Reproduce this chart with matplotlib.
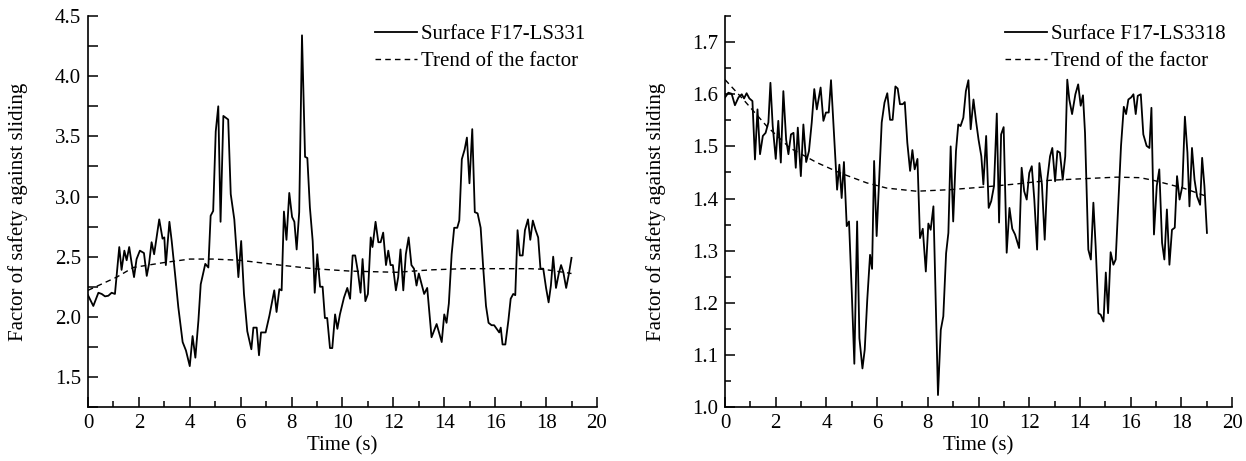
import matplotlib.pyplot as plt
from matplotlib.ticker import MultipleLocator

plt.rcParams['font.family'] = ['Liberation Serif', 'DejaVu Serif']
plt.rcParams['font.size'] = 15

# left panel: surface F17-LS331
time_a = [0.0, 0.21, 0.41, 0.54, 0.67, 0.8, 0.93, 1.06, 1.23, 1.32, 1.43, 1.52, 1.62, 1.72, 1.81, 1.91,
          2.04, 2.2, 2.31, 2.4, 2.5, 2.6, 2.8, 2.93, 3.0, 3.06, 3.2, 3.29, 3.42, 3.55, 3.72, 3.85,
          4.0, 4.11, 4.22, 4.34, 4.43, 4.61, 4.73, 4.82, 4.92, 5.02, 5.12, 5.21, 5.32, 5.51, 5.61, 5.75,
          5.91, 6.02, 6.13, 6.26, 6.42, 6.5, 6.63, 6.72, 6.8, 6.98, 7.13, 7.32, 7.41, 7.52, 7.61, 7.7,
          7.8, 7.91, 8.02, 8.11, 8.2, 8.3, 8.41, 8.53, 8.62, 8.72, 8.83, 8.91, 9.01, 9.12, 9.22, 9.31,
          9.4, 9.51, 9.6, 9.71, 9.8, 9.9, 10.06, 10.19, 10.3, 10.4, 10.5, 10.61, 10.71, 10.79, 10.9, 11.0,
          11.11, 11.18, 11.3, 11.41, 11.5, 11.6, 11.71, 11.8, 11.89, 11.98, 12.1, 12.19, 12.28, 12.39, 12.49, 12.6,
          12.71, 12.81, 12.91, 13.0, 13.11, 13.21, 13.33, 13.5, 13.7, 13.9, 14.0, 14.09, 14.18, 14.29, 14.39, 14.51,
          14.59, 14.69, 14.8, 14.89, 14.99, 15.1, 15.2, 15.31, 15.43, 15.53, 15.64, 15.74, 15.86, 15.96, 16.06, 16.16,
          16.22, 16.29, 16.4, 16.52, 16.61, 16.71, 16.79, 16.88, 16.97, 17.08, 17.17, 17.29, 17.38, 17.48, 17.59, 17.69,
          17.78, 17.89, 18.0, 18.1, 18.19, 18.28, 18.39, 18.5, 18.59, 18.68, 18.79, 18.9, 19.0]
factor_a = [2.18, 2.09, 2.20, 2.19, 2.17, 2.175, 2.2, 2.19, 2.58, 2.39, 2.55, 2.47, 2.58, 2.44, 2.33, 2.48,
            2.55, 2.53, 2.34, 2.44, 2.62, 2.52, 2.81, 2.65, 2.66, 2.43, 2.79, 2.63, 2.36, 2.08, 1.79, 1.72,
            1.59, 1.84, 1.66, 1.97, 2.27, 2.44, 2.41, 2.84, 2.88, 3.54, 3.75, 2.79, 3.67, 3.64, 3.02, 2.81,
            2.33, 2.63, 2.19, 1.88, 1.73, 1.91, 1.91, 1.68, 1.87, 1.87, 2.01, 2.22, 2.04, 2.23, 2.22, 2.875,
            2.64, 3.03, 2.83, 2.79, 2.56, 2.87, 4.34, 3.33, 3.32, 2.91, 2.63, 2.20, 2.52, 2.25, 2.25, 1.99,
            1.99, 1.74, 1.74, 2.02, 1.90, 2.02, 2.16, 2.24, 2.15, 2.51, 2.51, 2.37, 2.20, 2.48, 2.13, 2.19,
            2.66, 2.58, 2.79, 2.62, 2.62, 2.70, 2.43, 2.55, 2.43, 2.43, 2.22, 2.33, 2.56, 2.22, 2.52, 2.66,
            2.43, 2.40, 2.26, 2.36, 2.27, 2.19, 2.24, 1.83, 1.94, 1.79, 2.02, 1.95, 2.11, 2.52, 2.74, 2.74,
            2.80, 3.31, 3.39, 3.49, 3.11, 3.56, 2.87, 2.86, 2.74, 2.41, 2.09, 1.95, 1.93, 1.93, 1.90, 1.87,
            1.91, 1.77, 1.77, 1.97, 2.15, 2.19, 2.18, 2.72, 2.51, 2.51, 2.72, 2.81, 2.64, 2.80, 2.72, 2.66,
            2.40, 2.40, 2.24, 2.12, 2.26, 2.50, 2.24, 2.36, 2.43, 2.37, 2.24, 2.36, 2.49]
trend_time_a = [0, 1.13, 1.78, 2.96, 4.0, 4.9, 5.97, 7.54, 8.85, 10.3, 12.13, 13.44, 14.75, 16.06, 17.37, 17.9, 19.0]
trend_a = [2.22, 2.33, 2.41, 2.45, 2.48, 2.48, 2.47, 2.43, 2.40, 2.38, 2.37, 2.39, 2.40, 2.40, 2.40, 2.395, 2.36]

# right panel: surface F17-LS3318
time_b = [0.0, 0.13, 0.26, 0.39, 0.53, 0.66, 0.75, 0.85, 0.96, 1.08, 1.18, 1.28, 1.38, 1.49, 1.6, 1.71,
          1.79, 1.88, 2.0, 2.1, 2.2, 2.3, 2.41, 2.5, 2.6, 2.7, 2.79, 2.87, 2.99, 3.09, 3.2, 3.31,
          3.42, 3.52, 3.62, 3.77, 3.88, 3.98, 4.09, 4.18, 4.34, 4.42, 4.51, 4.6, 4.69, 4.8, 4.89, 5.0,
          5.1, 5.21, 5.3, 5.42, 5.51, 5.61, 5.72, 5.8, 5.88, 5.98, 6.09, 6.18, 6.29, 6.4, 6.51, 6.61,
          6.72, 6.81, 6.9, 7.01, 7.09, 7.19, 7.3, 7.39, 7.48, 7.59, 7.69, 7.8, 7.92, 8.02, 8.11, 8.22,
          8.4, 8.51, 8.61, 8.72, 8.81, 8.9, 9.0, 9.11, 9.2, 9.29, 9.4, 9.5, 9.6, 9.69, 9.8, 9.9,
          10.0, 10.11, 10.19, 10.3, 10.4, 10.5, 10.61, 10.72, 10.81, 10.89, 10.99, 11.11, 11.22, 11.33, 11.44, 11.6,
          11.7, 11.8, 11.9, 12.0, 12.1, 12.2, 12.31, 12.4, 12.5, 12.61, 12.71, 12.82, 12.91, 13.02, 13.11, 13.21,
          13.32, 13.42, 13.5, 13.58, 13.69, 13.82, 13.93, 14.03, 14.12, 14.2, 14.33, 14.43, 14.53, 14.62, 14.73, 14.82,
          14.93, 15.02, 15.11, 15.21, 15.32, 15.41, 15.51, 15.62, 15.73, 15.82, 15.91, 16.02, 16.11, 16.2, 16.28, 16.4,
          16.5, 16.63, 16.74, 16.82, 16.92, 17.03, 17.13, 17.24, 17.33, 17.43, 17.53, 17.63, 17.74, 17.83, 17.93, 18.04,
          18.14, 18.24, 18.32, 18.42, 18.52, 18.62, 18.74, 18.82, 18.91, 19.01]
factor_b = [1.594, 1.603, 1.601, 1.579, 1.594, 1.600, 1.592, 1.602, 1.592, 1.587, 1.475, 1.571, 1.485, 1.520, 1.526, 1.546,
            1.622, 1.539, 1.476, 1.549, 1.469, 1.606, 1.513, 1.485, 1.523, 1.526, 1.459, 1.536, 1.443, 1.542, 1.470, 1.491,
            1.546, 1.610, 1.571, 1.613, 1.549, 1.565, 1.565, 1.627, 1.485, 1.417, 1.465, 1.401, 1.470, 1.347, 1.356, 1.219,
            1.083, 1.356, 1.132, 1.074, 1.110, 1.206, 1.292, 1.265, 1.472, 1.328, 1.446, 1.546, 1.584, 1.602, 1.551, 1.551,
            1.615, 1.611, 1.581, 1.581, 1.585, 1.507, 1.453, 1.493, 1.456, 1.476, 1.324, 1.342, 1.260, 1.352, 1.340, 1.385,
            1.023, 1.148, 1.174, 1.295, 1.334, 1.500, 1.356, 1.491, 1.542, 1.539, 1.555, 1.606, 1.627, 1.533, 1.590, 1.549,
            1.513, 1.481, 1.427, 1.520, 1.382, 1.395, 1.424, 1.563, 1.354, 1.523, 1.537, 1.296, 1.382, 1.342, 1.331, 1.305,
            1.459, 1.414, 1.398, 1.449, 1.462, 1.398, 1.302, 1.468, 1.427, 1.321, 1.436, 1.481, 1.497, 1.433, 1.491, 1.488,
            1.436, 1.481, 1.628, 1.590, 1.562, 1.600, 1.619, 1.578, 1.598, 1.526, 1.302, 1.283, 1.392, 1.308, 1.180, 1.177,
            1.164, 1.258, 1.180, 1.297, 1.273, 1.283, 1.385, 1.501, 1.576, 1.562, 1.590, 1.594, 1.600, 1.562, 1.597, 1.600,
            1.523, 1.501, 1.497, 1.574, 1.331, 1.424, 1.456, 1.315, 1.283, 1.379, 1.273, 1.340, 1.344, 1.443, 1.398, 1.424,
            1.557, 1.488, 1.385, 1.497, 1.436, 1.404, 1.388, 1.478, 1.424, 1.334]
trend_time_b = [0, 0.72, 1.64, 2.56, 3.62, 4.54, 5.59, 6.38, 7.56, 8.88, 10.19, 11.5, 12.82, 14.13, 15.45, 16.37, 16.89, 18.08, 19.01]
trend_b = [1.628, 1.59, 1.539, 1.497, 1.469, 1.449, 1.43, 1.42, 1.414, 1.417, 1.422, 1.428, 1.435, 1.438, 1.441, 1.44, 1.435, 1.42, 1.404]

fig = plt.figure(figsize=(12.46, 4.61), dpi=100)
ax1 = fig.add_axes([0.0706, 0.1171, 0.4085, 0.848])
ax2 = fig.add_axes([0.5819, 0.1171, 0.4069, 0.848])

panels = [
    (ax1, time_a, factor_a, trend_time_a, trend_a, "Surface F17-LS331", (1.25, 4.5), 0.5, 0.25, 0.564),
    (ax2, time_b, factor_b, trend_time_b, trend_b, "Surface F17-LS3318", (1.0, 1.75), 0.1, 0.05, 0.552),
]

for ax, t, f, tt, tr, name, ylim, major, minor, leg_x in panels:
    ax.plot(t, f, color="black", linewidth=1.3, label=name)
    ax.plot(tt, tr, color="black", linewidth=1.0, linestyle=(0, (4, 3)), label="Trend of the factor")

    ax.set_xlim(0, 20)
    ax.set_ylim(*ylim)
    ax.xaxis.set_major_locator(MultipleLocator(2))
    ax.xaxis.set_minor_locator(MultipleLocator(1))
    ax.yaxis.set_major_locator(MultipleLocator(major))
    ax.yaxis.set_minor_locator(MultipleLocator(minor))
    ax.yaxis.set_major_formatter(plt.FormatStrFormatter('%.1f'))

    ax.spines["top"].set_visible(False)
    ax.spines["right"].set_visible(False)
    ax.spines["left"].set_linewidth(1.2)
    ax.spines["bottom"].set_linewidth(1.2)
    ax.tick_params(which="major", direction="in", length=7, width=1.1, labelsize=15, pad=5)
    ax.tick_params(which="minor", direction="in", length=4, width=1.1)

    ax.set_xlabel("Time (s)", fontsize=15, labelpad=2)
    ax.set_ylabel("Factor of safety against sliding", fontsize=15, labelpad=19)

    ax.legend(loc="upper left", bbox_to_anchor=(leg_x, 0.978), frameon=False, fontsize=15,
              handlelength=2.0, handletextpad=0.2, labelspacing=0.35, borderpad=0, borderaxespad=0)

# left panel y ticks are all the same length
ax1.tick_params(axis="y", which="minor", length=7)

plt.savefig("out.png", dpi=100)
